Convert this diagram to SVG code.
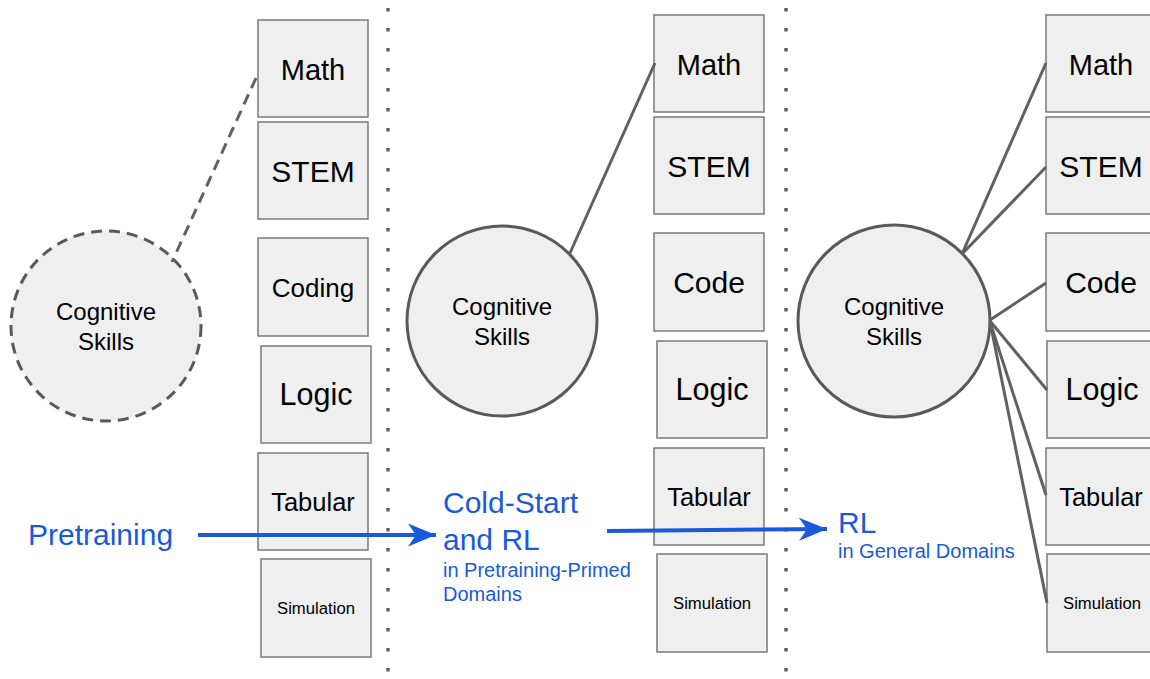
<svg xmlns="http://www.w3.org/2000/svg" width="1150" height="679" viewBox="0 0 1150 679">
  <defs>
    <style>
      .box { fill: #efefef; stroke: #7a7a7a; stroke-width: 1.5; }
      .circ { fill: #efefef; stroke: #595959; stroke-width: 3; }
      .circ-dash { fill: #efefef; stroke: #595959; stroke-width: 3; stroke-dasharray: 11 7; }
      .lbl { font-family: "Liberation Sans", Arial, sans-serif; fill: #000; text-anchor: middle; }
      .blue { font-family: "Liberation Sans", Arial, sans-serif; fill: #1a5ad8; }
      .link { stroke: #616161; stroke-width: 3; fill: none; }
      .link-dash { stroke: #616161; stroke-width: 3; fill: none; stroke-dasharray: 11 7; }
      .divider { stroke: #616161; stroke-width: 3.5; stroke-dasharray: 3.5 16.5; fill: none; }
      .flow { stroke: #1a5ad8; stroke-width: 4; fill: none; marker-end: url(#head); }
    </style>
    <marker id="head" markerUnits="userSpaceOnUse" markerWidth="32" markerHeight="28" viewBox="-30 -14 32 28" refX="0" refY="0" orient="auto">
      <path d="M0,0 L-28,-11.5 L-20,0 L-28,11.5 Z" fill="#1a5ad8"/>
    </marker>
  </defs>

  <!-- stage dividers -->
  <g id="dividers">
    <line class="divider" x1="388" y1="8" x2="388" y2="679"/>
    <line class="divider" x1="786" y1="8" x2="786" y2="679"/>
  </g>

  <!-- stage 1: pretraining -->
  <g id="skills-pre">
    <circle class="circ-dash" cx="106" cy="326" r="95"/>
    <text class="lbl" x="106" y="320" font-size="24">Cognitive</text>
    <text class="lbl" x="106" y="350" font-size="24">Skills</text>
  </g>
  <g id="pre-math"><rect class="box" x="258" y="20" width="110" height="97"/><text class="lbl" x="313" y="80" font-size="29">Math</text></g>
  <g id="pre-stem"><rect class="box" x="258" y="122" width="110" height="97"/><text class="lbl" x="313" y="182" font-size="30">STEM</text></g>
  <g id="pre-coding"><rect class="box" x="258" y="238" width="110" height="98"/><text class="lbl" x="313" y="297" font-size="26">Coding</text></g>
  <g id="pre-logic"><rect class="box" x="261" y="346" width="110" height="97"/><text class="lbl" x="316" y="405" font-size="30.5">Logic</text></g>
  <g id="pre-tabular"><rect class="box" x="258" y="453" width="110" height="97"/><text class="lbl" x="313" y="511" font-size="25.5">Tabular</text></g>
  <g id="pre-simulation"><rect class="box" x="261" y="559" width="110" height="98"/><text class="lbl" x="316" y="614" font-size="16.7">Simulation</text></g>

  <g id="label-pretraining">
    <text class="blue" x="28" y="545" font-size="30">Pretraining</text>
  </g>

  <!-- stage 2: cold-start and RL -->
  <g id="skills-cold">
    <circle class="circ" cx="502" cy="321" r="95"/>
    <text class="lbl" x="502" y="315" font-size="24">Cognitive</text>
    <text class="lbl" x="502" y="345" font-size="24">Skills</text>
  </g>
  <g id="cold-math"><rect class="box" x="654" y="15" width="110" height="97"/><text class="lbl" x="709" y="75" font-size="29">Math</text></g>
  <g id="cold-stem"><rect class="box" x="654" y="117" width="110" height="97"/><text class="lbl" x="709" y="177" font-size="30">STEM</text></g>
  <g id="cold-code"><rect class="box" x="654" y="233" width="110" height="98"/><text class="lbl" x="709" y="293" font-size="30">Code</text></g>
  <g id="cold-logic"><rect class="box" x="657" y="341" width="110" height="97"/><text class="lbl" x="712" y="400" font-size="30.5">Logic</text></g>
  <g id="cold-tabular"><rect class="box" x="654" y="448" width="110" height="97"/><text class="lbl" x="709" y="506" font-size="25.5">Tabular</text></g>
  <g id="cold-simulation"><rect class="box" x="657" y="554" width="110" height="98"/><text class="lbl" x="712" y="609" font-size="16.7">Simulation</text></g>

  <g id="label-coldstart">
    <text class="blue" x="443" y="513" font-size="30">Cold-Start</text>
    <text class="blue" x="443" y="550" font-size="30">and RL</text>
    <text class="blue" x="443" y="577" font-size="20">in Pretraining-Primed</text>
    <text class="blue" x="443" y="601" font-size="20">Domains</text>
  </g>

  <!-- stage 3: RL in general domains -->
  <g id="skills-general">
    <circle class="circ" cx="894" cy="321" r="96"/>
    <text class="lbl" x="894" y="315" font-size="24">Cognitive</text>
    <text class="lbl" x="894" y="345" font-size="24">Skills</text>
  </g>
  <g id="gen-math"><rect class="box" x="1046" y="15" width="110" height="97"/><text class="lbl" x="1101" y="75" font-size="29">Math</text></g>
  <g id="gen-stem"><rect class="box" x="1046" y="117" width="110" height="97"/><text class="lbl" x="1101" y="177" font-size="30">STEM</text></g>
  <g id="gen-code"><rect class="box" x="1046" y="233" width="110" height="98"/><text class="lbl" x="1101" y="293" font-size="30">Code</text></g>
  <g id="gen-logic"><rect class="box" x="1047" y="341" width="110" height="97"/><text class="lbl" x="1102" y="400" font-size="30.5">Logic</text></g>
  <g id="gen-tabular"><rect class="box" x="1046" y="448" width="110" height="97"/><text class="lbl" x="1101" y="506" font-size="25.5">Tabular</text></g>
  <g id="gen-simulation"><rect class="box" x="1047" y="554" width="110" height="98"/><text class="lbl" x="1102" y="609" font-size="16.7">Simulation</text></g>

  <g id="label-general">
    <text class="blue" x="838" y="533" font-size="30">RL</text>
    <text class="blue" x="838" y="558" font-size="20">in General Domains</text>
  </g>

  <!-- connectors, drawn last so the flow arrows pass over the boxes -->
  <g id="connectors">
    <line class="link-dash" x1="256" y1="78" x2="172" y2="262"/>
    <line class="link" x1="570" y1="253" x2="655" y2="63"/>
    <line class="link" x1="962" y1="254" x2="1046" y2="63"/>
    <line class="link" x1="962" y1="254" x2="1046" y2="167"/>
    <line class="link" x1="990" y1="320" x2="1046" y2="283"/>
    <line class="link" x1="990" y1="321" x2="1047" y2="390"/>
    <line class="link" x1="990" y1="322" x2="1046" y2="495"/>
    <line class="link" x1="990" y1="322" x2="1047" y2="603"/>
    <line class="flow" x1="198" y1="535" x2="436" y2="535"/>
    <line class="flow" x1="607" y1="531" x2="827" y2="529"/>
  </g>
</svg>
